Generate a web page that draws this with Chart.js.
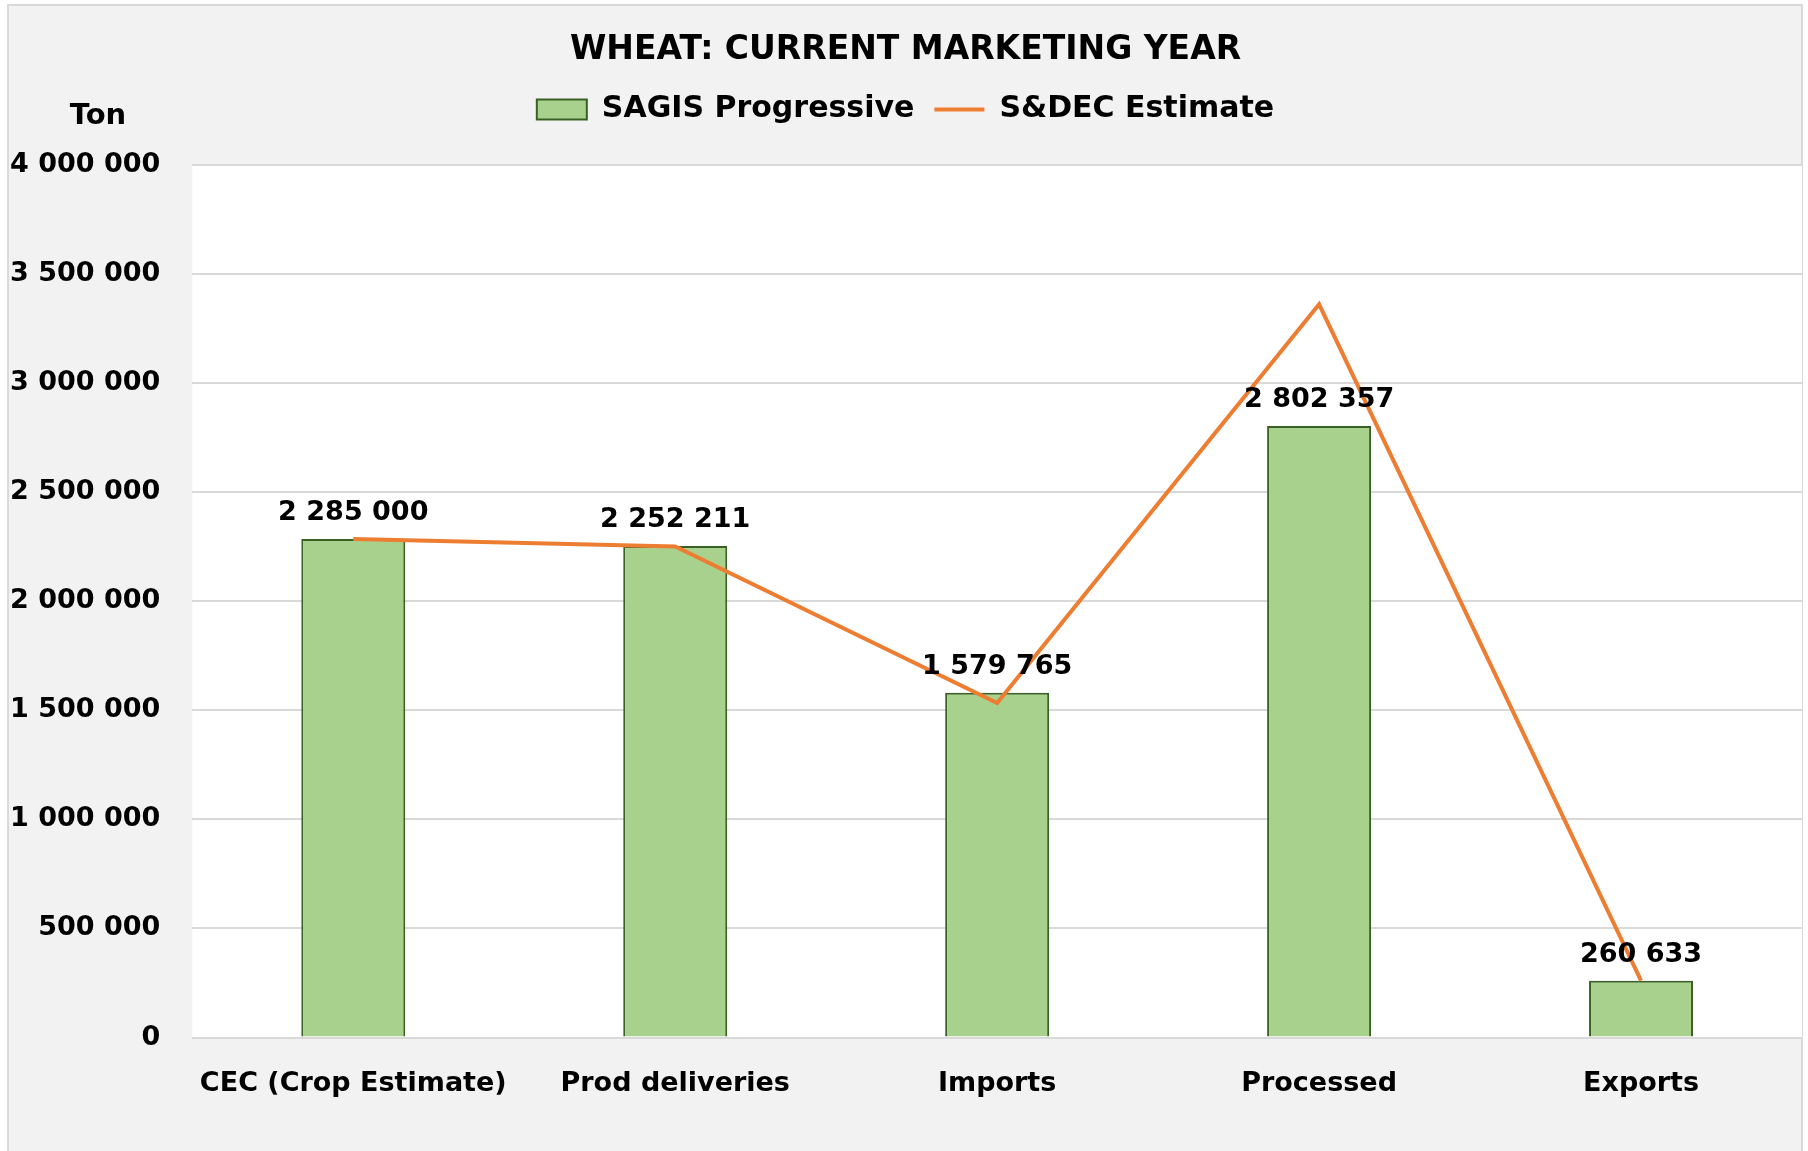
<!DOCTYPE html>
<html><head><meta charset="utf-8">
<script src="https://cdn.jsdelivr.net/npm/chart.js@4.4.0/dist/chart.umd.min.js"></script>
<style>html,body{margin:0;padding:0;background:#fff;overflow:hidden}
#wrap{position:relative;width:1808px;height:1151px}</style></head>
<body><div id="wrap"><canvas id="c" width="1808" height="1151"></canvas></div>
<script>
const categories = ['CEC (Crop Estimate)', 'Prod deliveries', 'Imports', 'Processed', 'Exports'];
const sagisProgressive = [2285000, 2252211, 1579765, 2802357, 260633];
const sdecEstimate = [2285000, 2250000, 1533000, 3360000, 260633];
const yTickValues = [0, 500000, 1000000, 1500000, 2000000, 2500000, 3000000, 3500000, 4000000];
const titleText = 'WHEAT: CURRENT MARKETING YEAR';
const unitText = 'Ton';

const FONT = 'DejaVu Sans';
const fmt = v => Math.round(v).toLocaleString('en-US').replace(/,/g, ' ');

const framePlugin = {
  id: 'frame',
  beforeDraw(chart) {
    const ctx = chart.ctx, a = chart.chartArea;
    ctx.save();
    ctx.fillStyle = '#ffffff';
    ctx.fillRect(0, 0, chart.width, chart.height);
    ctx.fillStyle = '#f2f2f2';
    ctx.fillRect(7, 4, chart.width - 7 - 5, chart.height);
    ctx.strokeStyle = '#d9d9d9';
    ctx.lineWidth = 2;
    ctx.strokeRect(8, 5, chart.width - 8 - 6, chart.height + 10);
    ctx.fillStyle = '#ffffff';
    ctx.fillRect(a.left, a.top, a.right - a.left, a.bottom - a.top);
    ctx.restore();
  },
  afterDatasetsDraw(chart) {
    const ctx = chart.ctx;
    const meta = chart.getDatasetMeta(0);
    ctx.save();
    ctx.font = 'bold 27px "' + FONT + '"';
    ctx.fillStyle = '#000';
    ctx.textAlign = 'center';
    ctx.textBaseline = 'alphabetic';
    meta.data.forEach((el, i) => {
      ctx.fillText(fmt(sagisProgressive[i]), el.x, el.y - 19);
    });
    const ys = chart.scales.y;
    ctx.font = 'bold 29px "' + FONT + '"';
    ctx.fillText(unitText, ys.left + 89, chart.chartArea.top - 41);
    ctx.restore();
  }
};

const chart = new Chart(document.getElementById('c'), {
  data: {
    labels: categories,
    datasets: [
      {
        type: 'bar', label: 'SAGIS Progressive', data: sagisProgressive,
        backgroundColor: '#a9d18e', borderColor: '#3b6023', borderWidth: 2,
        barPercentage: 0.323, categoryPercentage: 1, order: 2, pointStyle: 'rect'
      },
      {
        type: 'line', label: 'S&DEC Estimate', data: sdecEstimate,
        borderColor: '#ed7d31', backgroundColor: '#ed7d31', borderWidth: 4,
        pointRadius: 0, pointHoverRadius: 0, tension: 0, order: 1, pointStyle: 'line',
        borderJoinStyle: 'miter'
      }
    ]
  },
  options: {
    responsive: false, animation: false, devicePixelRatio: 1,
    layout: { padding: { left: 9, right: 6, top: 0, bottom: 53 } },
    plugins: {
      title: {
        display: true, text: titleText, color: '#000',
        font: { family: FONT, size: 33, weight: 'bold' },
        padding: { top: 31, bottom: 4 }
      },
      legend: {
        display: true, position: 'top',
        labels: {
          usePointStyle: true, pointStyleWidth: 50, boxHeight: 20,
          color: '#000', padding: 20,
          font: { family: FONT, size: 30, weight: 'bold' },
          sort: (a, b) => a.datasetIndex - b.datasetIndex
        }
      },
      tooltip: { enabled: false }
    },
    scales: {
      x: {
        grid: { display: false, drawTicks: false },
        border: { display: false },
        afterFit: s => { s.height -= 32; },
        ticks: { color: '#000', padding: 30, font: { family: FONT, size: 27, weight: 'bold' }, maxRotation: 0 }
      },
      y: {
        min: 0, max: 4000000,
        afterBuildTicks: s => { s.ticks = yTickValues.map(v => ({ value: v })); },
        afterFit: s => { s.width -= 31; },
        grid: { color: '#d9d9d9', lineWidth: 2, drawTicks: false },
        border: { display: false },
        ticks: { color: '#000', padding: 32, font: { family: FONT, size: 27, weight: 'bold' }, callback: v => fmt(v) }
      }
    }
  },
  plugins: [framePlugin]
});
const origFit = chart.legend.fit.bind(chart.legend);
chart.legend.fit = function () { origFit(); this.height += 30; };
chart.update();
</script></body></html>
